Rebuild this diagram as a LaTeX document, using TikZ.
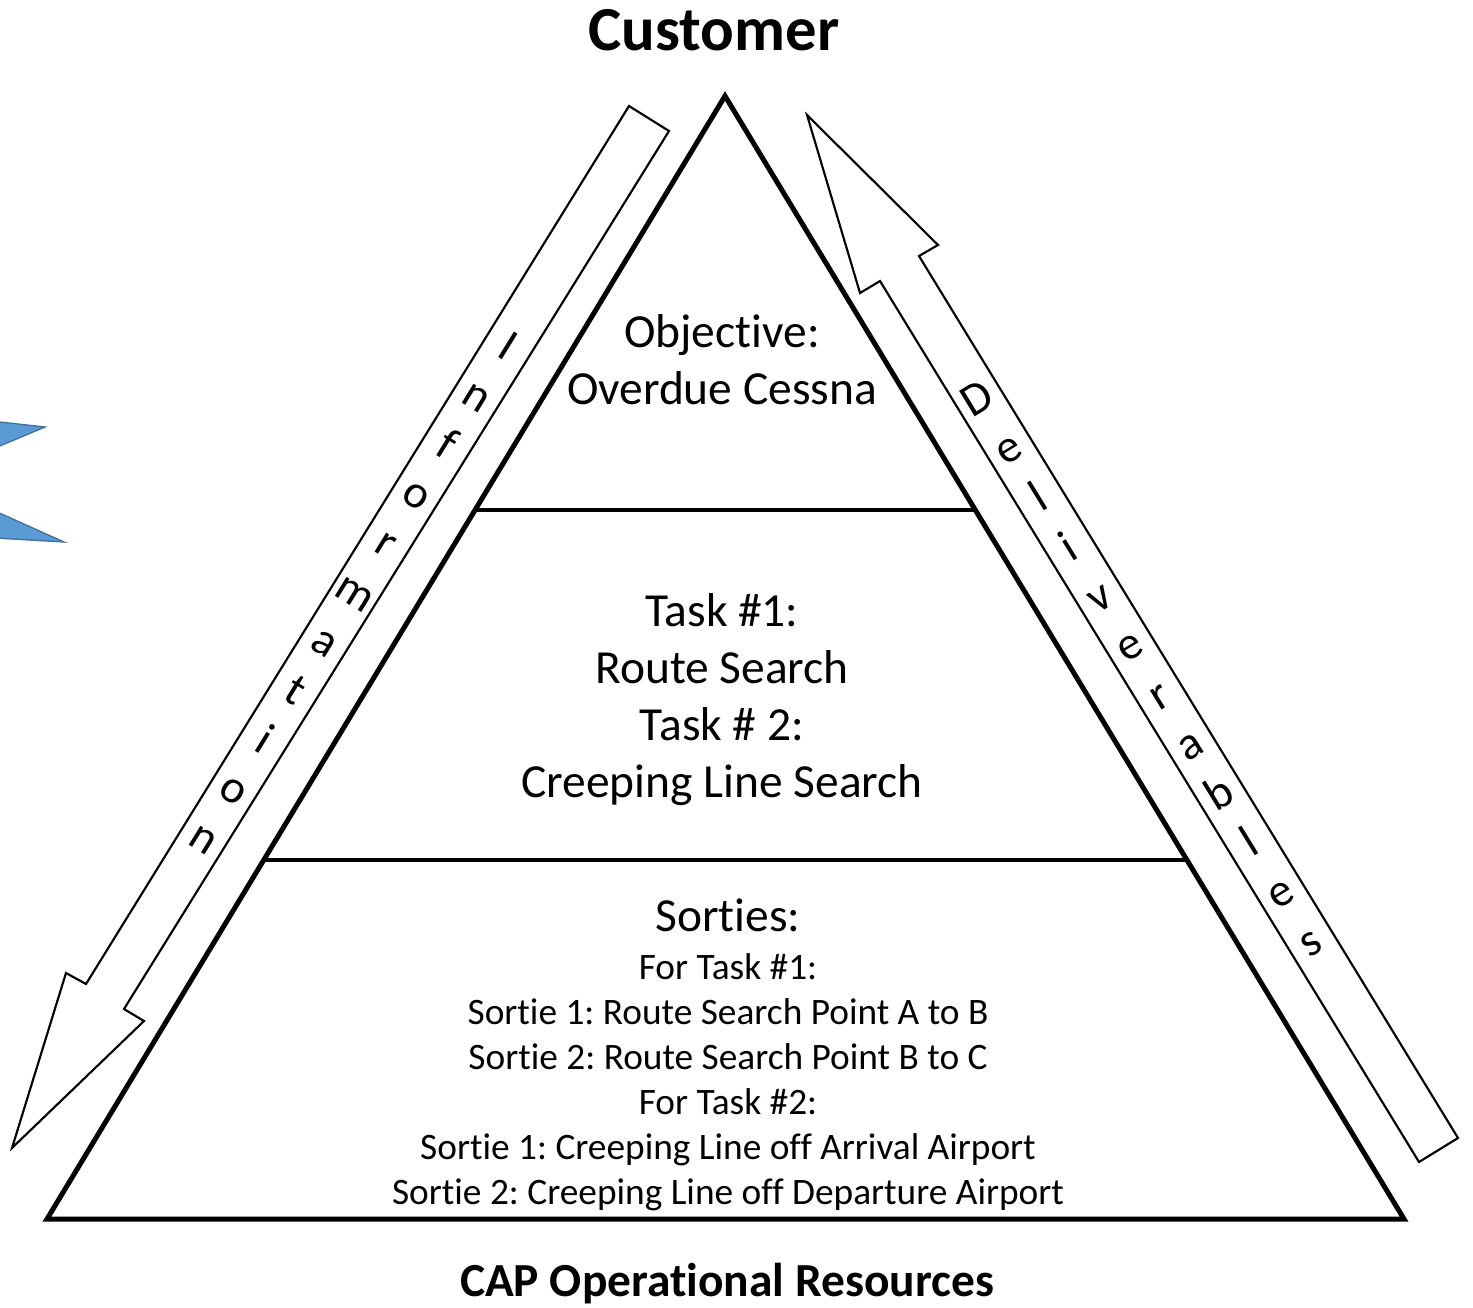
\documentclass[tikz,border=0pt]{standalone}
\usepackage{fontspec}
\setmainfont{Carlito}[Ligatures={NoCommon}]
\frenchspacing
\usetikzlibrary{calc}
\definecolor{officeblue}{HTML}{5B9BD5}
\definecolor{officeblueline}{HTML}{41719C}
\begin{document}
\begin{tikzpicture}[x=0.75pt,y=-0.75pt,
  pyr/.style={line width=3.75pt, line join=miter},
  divline/.style={line width=3.4pt},
  bigarrow/.style={draw=black, line width=1.6pt, fill=white, line join=miter},
  maintext/.style={align=center, font=\fontsize{35.6}{42.75}\selectfont, inner sep=0pt},
  smalltext/.style={align=center, font=\fontsize{28}{33.75}\selectfont, inner sep=0pt},
  arrowletter/.style={font=\fontsize{35}{42}\selectfont, inner sep=0pt, anchor=base},
  titletext/.style={font=\bfseries\fontsize{47}{56}\selectfont, inner sep=0pt, anchor=base},
  bottomtext/.style={font=\bfseries\fontsize{35.6}{42}\selectfont, inner sep=0pt, anchor=base},
  spike/.style={fill=officeblue, draw=officeblueline, line width=1pt, line join=miter}]
\useasboundingbox (0,0) rectangle (1473,1307);

% blue spikes at the left edge
\filldraw[spike] (-5,421.5) -- (45,427) -- (-5,448);
\filldraw[spike] (-5,511) -- (64,542) -- (-5,538);

% pyramid
\coordinate (apex) at (725,96);
\coordinate (bl) at (47,1219);
\coordinate (br) at (1404,1219);
\draw[pyr] (apex) -- (bl) -- (br) -- cycle;
\draw[divline] ($(apex)!0.3687!(bl)$) -- ($(apex)!0.3687!(br)$);
\draw[divline] ($(apex)!0.6803!(bl)$) -- ($(apex)!0.6803!(br)$);

% Information arrow (down-left)
\draw[bigarrow] (629,106) -- (669,131) -- (124,1009) -- (144,1021) -- (12,1148)
  -- (66,973) -- (86,984) -- cycle;
% Deliverables arrow (up-left)
\draw[bigarrow] (807,115) -- (938,245) -- (919,256) -- (1458,1138) -- (1419,1162)
  -- (880,281) -- (860,293) -- cycle;

% stacked letters along the arrows
\foreach \ch [count=\i from 0] in {I,n,f,o,r,m,a,t,i,o,n}
  \node[arrowletter, rotate=-31.7] (info\i) at ({500.7-30.4*\i},{358.5+49.19*\i}) {\ch};
\foreach \ch [count=\i from 0] in {D,e,l,i,v,e,r,a,b,l,e,s}
  \node[arrowletter, rotate=31.5] (deliv\i) at ({985.2+30.2*\i},{411.3+49.30*\i}) {\ch};

% titles
\node[titletext] (customer) at (714,50) {Customer};
\node[bottomtext] (cap) at (727,1296) {CAP Operational Resources};

% level texts
\node[maintext] (objective) at (722,360) {Objective:\\Overdue Cessna};
\node[maintext] (tasks) at (722,700) {Task \#1:\\Route Search\\Task \# 2:\\Creeping Line Search};
\node[maintext] (sorties) at (728,915) {Sorties:};
\node[smalltext] (sortielist) at (728,1082) {For Task \#1:\\Sortie 1: Route Search Point A to B\\Sortie 2: Route Search Point B to C\\For Task \#2:\\Sortie 1: Creeping Line off Arrival Airport\\Sortie 2: Creeping Line off Departure Airport};
\end{tikzpicture}
\end{document}
